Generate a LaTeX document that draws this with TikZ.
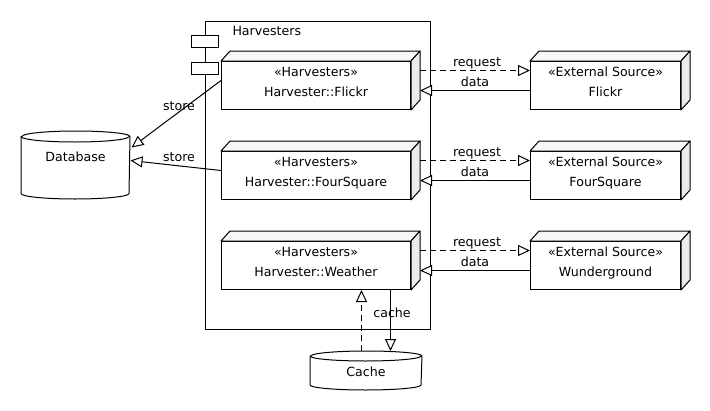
\documentclass[tikz,border=0pt]{standalone}
\usepackage{fontspec}
\setmainfont{DejaVu Sans}
\usetikzlibrary{arrows.meta,calc}
\definecolor{sidegray}{HTML}{EBEBEB}
\definecolor{topgray}{HTML}{F7F7F7}
\newcommand\lowpad{\rule[-8pt]{0pt}{1pt}}
\begin{document}
\begin{tikzpicture}[x=1pt,y=-1pt,line width=1pt,
  every node/.style={font=\fontsize{12.6}{20}\selectfont},
  boxthreed/.style={draw,fill=white,minimum width=189pt,minimum height=48pt,inner sep=0pt,align=center},
  extbox/.style={draw,fill=white,minimum width=150pt,minimum height=48pt,inner sep=0pt,align=center},
  icon/.style={draw,fill=white,minimum width=27pt,minimum height=12pt,inner sep=0pt},
  tri/.style={-{Triangle[length=12pt,width=11pt,fill=white]}},
  dsh/.style={dash pattern=on 6pt off 4pt},
  lbl/.style={inner sep=1pt}]
\useasboundingbox (0,0) rectangle (710,410);
% package
\node[draw,minimum width=225pt,minimum height=308pt,inner sep=0pt,anchor=north west] (pkg) at (204.5,20.5) {};
\node[anchor=west,inner sep=0pt] (ttl) at (232,31) {Harvesters};
\node[icon] (ic1) at (205,41.5) {};
\node[icon] (ic2) at (205,68.5) {};
% harvester nodes
\node[boxthreed] (fl) at (316,85.5) {«Harvesters»\\Harvester::Flickr\lowpad};
\node[boxthreed] (fs) at (316,175.5) {«Harvesters»\\Harvester::FourSquare\lowpad};
\node[boxthreed] (we) at (316,265.5) {«Harvesters»\\Harvester::Weather\lowpad};
% external
\node[extbox] (ef) at (605.5,85.5) {«External Source»\\Flickr\lowpad};
\node[extbox] (efs) at (605.5,175.5) {«External Source»\\FourSquare\lowpad};
\node[extbox] (ewu) at (605.5,265.5) {«External Source»\\Wunderground\lowpad};
\foreach \n in {fl,fs,we,ef,efs,ewu}{
  \draw[fill=topgray,line join=round] (\n.north west) -- ++(9,-10) -- ($(\n.north east)+(9,-10)$) -- (\n.north east) -- cycle;
  \draw[fill=sidegray,line join=round] (\n.north east) -- ++(9,-10) -- ($(\n.south east)+(9,-10)$) -- (\n.south east) -- cycle;
}
% database
\node[minimum width=108pt,minimum height=67pt,inner sep=0pt] (db) at (75.5,165) {};
\draw[fill=white] ($(db.north west)+(0,5.5)$) -- ($(db.south west)+(0,-5.5)$)
  arc[start angle=180,end angle=360,x radius=54pt,y radius=5.5pt]
  -- ($(db.north east)+(0,5.5)$)
  arc[start angle=0,end angle=180,x radius=54pt,y radius=5.5pt] -- cycle;
\draw ($(db.north west)+(0,5.5)$) arc[start angle=180,end angle=360,x radius=54pt,y radius=5.5pt];
\node (dbt) at (75.5,157) {Database};
% cache
\node[minimum width=111pt,minimum height=38pt,inner sep=0pt] (ca) at (366,370.5) {};
\draw[fill=white] ($(ca.north west)+(0,5)$) -- ($(ca.south west)+(0,-5)$)
  arc[start angle=180,end angle=360,x radius=55.5pt,y radius=5pt]
  -- ($(ca.north east)+(0,5)$)
  arc[start angle=0,end angle=180,x radius=55.5pt,y radius=5pt] -- cycle;
\draw ($(ca.north west)+(0,5)$) arc[start angle=180,end angle=360,x radius=55.5pt,y radius=5pt];
\node (cat) at (366,372) {Cache};
% store arrows
\draw[tri] ($(fl.west)+(0,-5)$) -- ($(db.east)+(1.5,-17.5)$);
\draw[tri] ($(fs.west)+(0,-5)$) -- ($(db.east)+(0.5,-4.5)$);
\node[lbl] (s1) at (179,106) {store};
\node[lbl] (s2) at (179,157) {store};
% request / data
\foreach \h/\e/\yy in {fl/ef/85,fs/efs/175,we/ewu/265}{
  \draw[tri,dsh] ($(\h.east)+(9,-15)$) -- ($(\e.west)+(0,-15)$);
  \draw[tri] ($(\e.west)+(0,5)$) -- ($(\h.east)+(9,5)$);
  \node[lbl] at (477,\yy-22) {request};
  \node[lbl] at (475,\yy-3) {data};
}
% cache arrows
\draw[tri] ($(we.south)+(74.5,0)$) -- ($(ca.north)+(24.5,0)$);
\draw[tri,dsh] ($(ca.north)+(-4.5,0)$) -- ($(we.south)+(45.5,0)$);
\node[lbl] (cl) at (392,313) {cache};
\end{tikzpicture}
\end{document}
